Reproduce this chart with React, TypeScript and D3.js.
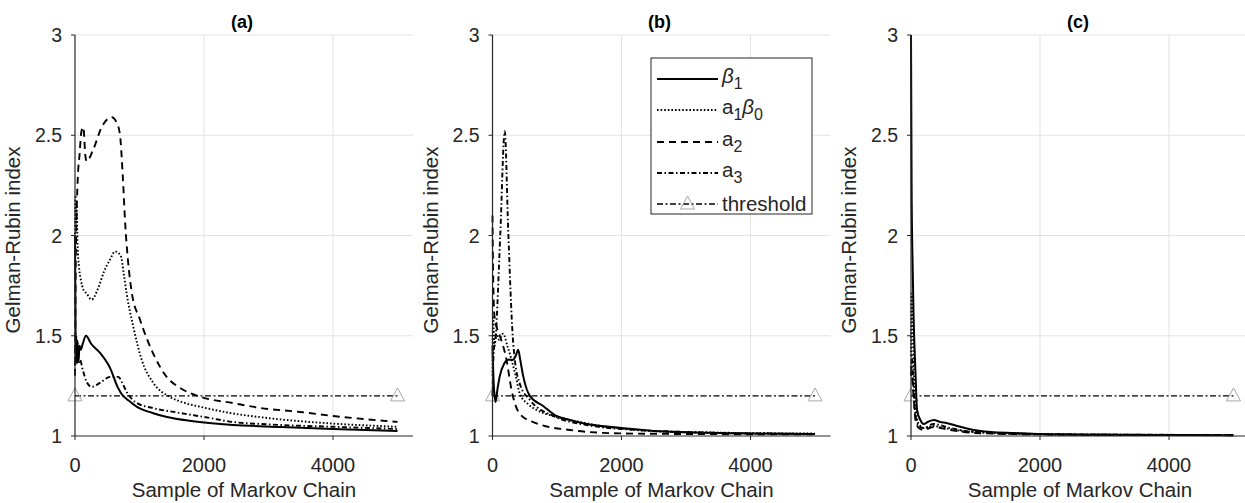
import React from 'react';
import * as d3 from 'd3';

// ---------- data ----------
const panelTitles = ['(a)', '(b)', '(c)'];
const xTicks = [0, 2000, 4000];
const xTickLabels = ['0', '2000', '4000'];
const yTicks = [1, 1.5, 2, 2.5, 3];
const yTickLabels = ['1', '1.5', '2', '2.5', '3'];
const xLabel = 'Sample of Markov Chain';
const yLabel = 'Gelman-Rubin index';

const thresholdX = [0, 5000];
const thresholdY = [1.2, 1.2];

// panel (a)
const aBeta1X = [0, 5, 12, 20, 30, 40, 55, 70, 90, 120, 170, 250, 388, 543, 667, 744, 800, 961, 1200, 1426, 1800, 2450, 3200, 4000, 5000];
const aBeta1Y = [2.0, 1.75, 1.42, 1.5, 1.36, 1.47, 1.37, 1.45, 1.43, 1.46, 1.5, 1.46, 1.415, 1.34, 1.24, 1.2, 1.185, 1.145, 1.115, 1.095, 1.075, 1.055, 1.045, 1.035, 1.025];
const aA1B0X = [0, 8, 15, 25, 40, 60, 90, 130, 181, 258, 350, 450, 543, 620, 708, 760, 801, 904, 1034, 1214, 1473, 1700, 1938, 2400, 2977, 4000, 5000];
const aA1B0Y = [1.9, 2.2, 2.05, 2.15, 1.95, 1.85, 1.78, 1.73, 1.71, 1.68, 1.73, 1.82, 1.88, 1.92, 1.9, 1.8, 1.71, 1.545, 1.38, 1.265, 1.195, 1.165, 1.146, 1.115, 1.09, 1.062, 1.046];
const aA2X = [0, 10, 25, 45, 70, 100, 129, 160, 181, 284, 413, 568, 650, 698, 740, 780, 820, 878, 1008, 1214, 1421, 1628, 1938, 2450, 2868, 3488, 4000, 5000];
const aA2Y = [1.3, 1.8, 2.1, 2.3, 2.4, 2.52, 2.54, 2.4, 2.37, 2.43, 2.54, 2.59, 2.56, 2.5, 2.3, 2.05, 1.88, 1.72, 1.58, 1.41, 1.295, 1.24, 1.196, 1.164, 1.14, 1.12, 1.1, 1.07];
const aA3X = [0, 10, 20, 35, 50, 78, 120, 180, 258, 388, 543, 672, 740, 801, 956, 1200, 1628, 2000, 2450, 3000, 4000, 5000];
const aA3Y = [1.35, 1.5, 1.38, 1.48, 1.36, 1.38, 1.33, 1.27, 1.245, 1.265, 1.295, 1.295, 1.26, 1.22, 1.165, 1.14, 1.115, 1.095, 1.07, 1.058, 1.046, 1.035];

// panel (b)
const bBeta1X = [0, 20, 47, 80, 114, 180, 243, 320, 360, 398, 430, 475, 579, 785, 992, 1200, 1457, 2000, 2500, 3500, 5000];
const bBeta1Y = [1.45, 1.25, 1.17, 1.24, 1.3, 1.36, 1.38, 1.38, 1.4, 1.43, 1.38, 1.3, 1.2, 1.15, 1.1, 1.08, 1.06, 1.04, 1.025, 1.015, 1.01];
const bA1B0X = [0, 10, 30, 62, 100, 165, 230, 295, 360, 424, 550, 682, 940, 1200, 1457, 2233, 3000, 5000];
const bA1B0Y = [1.3, 1.6, 1.45, 1.51, 1.48, 1.51, 1.45, 1.38, 1.3, 1.21, 1.16, 1.13, 1.1, 1.08, 1.063, 1.03, 1.02, 1.012];
const bA2X = [0, 10, 30, 60, 114, 217, 295, 424, 682, 1199, 1974, 3000, 5000];
const bA2Y = [2.1, 1.8, 1.6, 1.55, 1.5, 1.38, 1.23, 1.11, 1.063, 1.03, 1.013, 1.01, 1.008];
const bA3X = [0, 15, 50, 120, 190, 243, 315, 346, 424, 579, 940, 1457, 2233, 3000, 5000];
const bA3Y = [1.2, 1.4, 1.5, 2.0, 2.52, 2.03, 1.49, 1.38, 1.26, 1.18, 1.1, 1.055, 1.03, 1.02, 1.01];

// panel (c)
const cBeta1X = [0, 10, 26, 40, 68, 94, 145, 197, 260, 353, 450, 550, 717, 900, 1236, 1600, 2015, 3000, 4000, 5000];
const cBeta1Y = [3.0, 2.2, 1.84, 1.6, 1.33, 1.13, 1.08, 1.06, 1.07, 1.08, 1.07, 1.065, 1.05, 1.035, 1.02, 1.015, 1.01, 1.006, 1.005, 1.004];
const cA1B0X = [0, 10, 30, 50, 80, 120, 200, 350, 500, 800, 1200, 2000, 3500, 5000];
const cA1B0Y = [1.4, 1.71, 1.5, 1.25, 1.12, 1.06, 1.04, 1.05, 1.04, 1.025, 1.015, 1.008, 1.006, 1.004];
const cA2X = [0, 15, 40, 70, 120, 200, 350, 600, 1000, 2000, 5000];
const cA2Y = [1.35, 1.3, 1.2, 1.08, 1.04, 1.03, 1.045, 1.03, 1.015, 1.008, 1.004];
const cA3X = [0, 15, 40, 70, 120, 200, 350, 600, 1000, 2000, 5000];
const cA3Y = [1.3, 1.4, 1.22, 1.1, 1.05, 1.04, 1.06, 1.04, 1.02, 1.01, 1.005];

// ---------- styles ----------
const FONT = 'Arial, "Liberation Sans", Helvetica, sans-serif';
const AXIS = '#262626';
const GRID = '#e3e3e3';
const seriesDash = ['', '1.6 2', '7 5', '5 2.5 1.5 2.5'];
const seriesWidth = [2, 1.9, 1.9, 1.9];

const panels = [
  { left: 75, series: [[aBeta1X, aBeta1Y], [aA1B0X, aA1B0Y], [aA2X, aA2Y], [aA3X, aA3Y]] },
  { left: 492.5, series: [[bBeta1X, bBeta1Y], [bA1B0X, bA1B0Y], [bA2X, bA2Y], [bA3X, bA3Y]] },
  { left: 911, series: [[cBeta1X, cBeta1Y], [cA1B0X, cA1B0Y], [cA2X, cA2Y], [cA3X, cA3Y]] },
];

const PLOT_W = 338;
const TOP = 35;
const BOTTOM = 436;

function Triangle({ cx, cy }: { cx: number; cy: number }) {
  return (
    <path
      d={`M${cx - 7},${cy + 5} L${cx},${cy - 8} L${cx + 7},${cy + 5} Z`}
      fill="none"
      stroke="#a8a8a8"
      strokeWidth={1}
    />
  );
}

function Panel({ idx, left, series }: { idx: number; left: number; series: number[][][] }) {
  const x = d3.scaleLinear().domain([0, 5240]).range([left, left + PLOT_W]);
  const y = d3.scaleLinear().domain([1, 3]).range([BOTTOM, TOP]);
  const line = d3
    .line<[number, number]>()
    .x((d) => x(d[0]))
    .y((d) => y(d[1]))
    .curve(d3.curveMonotoneX);
  const thr = thresholdX.map((v, i) => [v, thresholdY[i]] as [number, number]);
  return (
    <g>
      {/* grid */}
      {yTicks.filter((t) => t > 1).map((t) => (
        <line key={'gy' + t} x1={x(0)} x2={left + PLOT_W} y1={y(t)} y2={y(t)} stroke={GRID} strokeWidth={1} />
      ))}
      {xTicks.filter((t) => t > 0).map((t) => (
        <line key={'gx' + t} x1={x(t)} x2={x(t)} y1={TOP} y2={BOTTOM} stroke={GRID} strokeWidth={1} />
      ))}
      {/* threshold */}
      <path d={line.curve(d3.curveLinear)(thr) || ''} fill="none" stroke="#000" strokeWidth={1.4} strokeDasharray="6 2.5 2 2.5" />
      {thr.map((d, i) => (
        <Triangle key={'tr' + i} cx={x(d[0])} cy={y(d[1])} />
      ))}
      {/* series */}
      {series.map((s, i) => {
        const pts = s[0].map((v, j) => [v, s[1][j]] as [number, number]);
        return (
          <path
            key={'s' + i}
            d={line.curve(d3.curveMonotoneX)(pts) || ''}
            fill="none"
            stroke="#000"
            strokeWidth={seriesWidth[i]}
            strokeDasharray={seriesDash[i] || undefined}
            strokeLinejoin="round"
          />
        );
      })}
      {/* axes */}
      <line x1={x(0)} x2={x(0)} y1={TOP} y2={BOTTOM} stroke={AXIS} strokeWidth={1.2} />
      <line x1={x(0)} x2={left + PLOT_W} y1={BOTTOM} y2={BOTTOM} stroke={AXIS} strokeWidth={1.2} />
      {yTicks.map((t, i) => (
        <g key={'yt' + t}>
          <line x1={x(0) - 4} x2={x(0)} y1={y(t)} y2={y(t)} stroke={AXIS} strokeWidth={1} />
          <text x={x(0) - 13} y={y(t) + 7} textAnchor="end" fontSize={19.5} fill="#262626" fontFamily={FONT}>
            {yTickLabels[i]}
          </text>
        </g>
      ))}
      {xTicks.map((t, i) => (
        <g key={'xt' + t}>
          <line x1={x(t)} x2={x(t)} y1={BOTTOM} y2={BOTTOM + 4} stroke={AXIS} strokeWidth={1} />
          <text x={x(t)} y={472} textAnchor="middle" fontSize={20} fill="#262626" fontFamily={FONT}>
            {xTickLabels[i]}
          </text>
        </g>
      ))}
      <text x={left + PLOT_W / 2} y={497} textAnchor="middle" fontSize={20.5} fill="#262626" fontFamily={FONT}>
        {xLabel}
      </text>
      <text
        transform={`translate(${left - 55},240) rotate(-90)`}
        textAnchor="middle"
        fontSize={20.5}
        fill="#262626"
        fontFamily={FONT}
      >
        {yLabel}
      </text>
      <text x={left + 167} y={28} textAnchor="middle" fontSize={18} fontWeight="bold" fill="#000" fontFamily={FONT}>
        {panelTitles[idx]}
      </text>
    </g>
  );
}

function Legend() {
  const lx = 651;
  const ly = 58;
  const rows = [79, 110, 142, 173, 204];
  const s0 = 657;
  const s1 = 718;
  const tx = 722;
  const fs = 20.5;
  return (
    <g fontFamily={FONT} fill="#262626">
      <rect x={lx} y={ly} width={161} height={156} fill="#fff" stroke="#262626" strokeWidth={1} />
      {[0, 1, 2, 3].map((i) => (
        <line key={i} x1={s0} x2={s1} y1={rows[i]} y2={rows[i]} stroke="#000" strokeWidth={1.9} strokeDasharray={seriesDash[i] || undefined} />
      ))}
      <line x1={s0} x2={s1} y1={rows[4]} y2={rows[4]} stroke="#000" strokeWidth={1.4} strokeDasharray="6 2.5 2 2.5" />
      <Triangle cx={(s0 + s1) / 2} cy={rows[4]} />
      <text x={tx} y={rows[0] + 4} fontSize={fs}>
        <tspan fontStyle="italic">β</tspan>
        <tspan fontSize={16} dy={6}>1</tspan>
      </text>
      <text x={tx} y={rows[1] + 4} fontSize={fs}>
        a<tspan fontSize={16} dy={6}>1</tspan>
        <tspan fontStyle="italic" dy={-6}>β</tspan>
        <tspan fontSize={16} dy={6}>0</tspan>
      </text>
      <text x={tx} y={rows[2] + 4} fontSize={fs}>
        a<tspan fontSize={16} dy={6}>2</tspan>
      </text>
      <text x={tx} y={rows[3] + 4} fontSize={fs}>
        a<tspan fontSize={16} dy={6}>3</tspan>
      </text>
      <text x={tx} y={rows[4] + 7} fontSize={fs}>
        threshold
      </text>
    </g>
  );
}

export default function App() {
  return (
    <svg
      width={1245}
      height={503}
      viewBox="0 0 1245 503"
      style={{ position: 'absolute', left: 0, top: 0, background: '#fff' }}
    >
      <rect x={0} y={0} width={1245} height={503} fill="#fff" />
      {panels.map((p, i) => (
        <Panel key={i} idx={i} left={p.left} series={p.series} />
      ))}
      <Legend />
    </svg>
  );
}
